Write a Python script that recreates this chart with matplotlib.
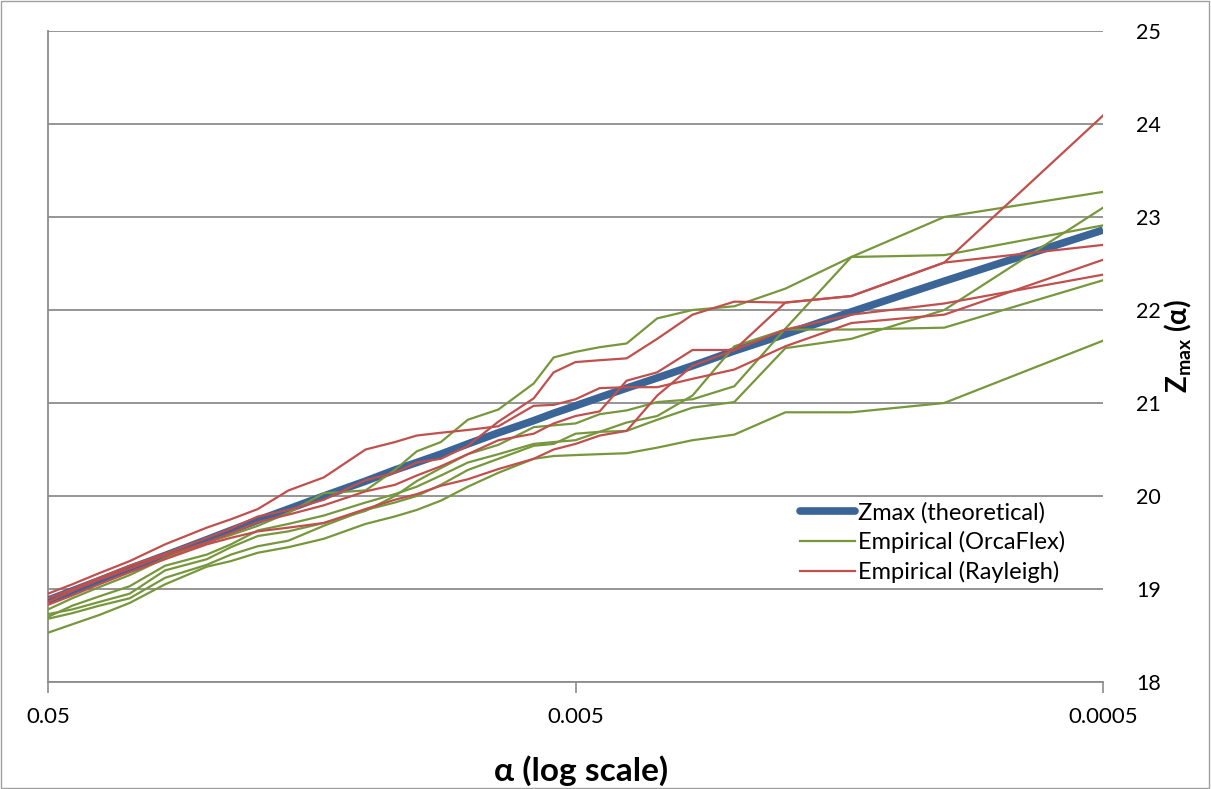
import matplotlib
matplotlib.use("Agg")
import matplotlib.pyplot as plt
from matplotlib.patches import Rectangle
from matplotlib.lines import Line2D

plt.rcParams['font.family'] = ['Lato', 'DejaVu Sans']
plt.rcParams['mathtext.fontset'] = 'custom'
plt.rcParams['mathtext.rm'] = 'Lato'
plt.rcParams['mathtext.bf'] = 'Lato:bold'
plt.rcParams['mathtext.it'] = 'Lato:italic'
plt.rcParams['mathtext.fallback'] = 'stixsans'

# exceedance rank k, alpha = k / 2000
k_rank = [1, 2, 3, 4, 5, 6, 7, 8, 9, 10, 11, 12, 14, 16, 18, 20, 22, 25, 30, 35,
          40, 45, 50, 60, 70, 80, 90, 100]
n_total = 2000
alpha = [k / n_total for k in k_rank]

theoretical = [22.86, 22.31, 21.98, 21.74, 21.56, 21.40, 21.27, 21.16, 21.06, 20.97,
               20.89, 20.81, 20.68, 20.56, 20.45, 20.36, 20.28, 20.16, 20.00, 19.86,
               19.74, 19.63, 19.53, 19.36, 19.22, 19.09, 18.98, 18.88]

orcaflex_1 = [23.27, 23.00, 22.57, 22.23, 22.04, 22.00, 21.91, 21.64, 21.60, 21.55,
              21.49, 21.21, 20.93, 20.82, 20.58, 20.48, 20.28, 20.06, 20.03, 19.82,
              19.68, 19.58, 19.50, 19.33, 19.15, 19.02, 18.90, 18.78]
orcaflex_2 = [23.10, 22.00, 21.69, 21.59, 21.01, 20.95, 20.82, 20.70, 20.69, 20.60,
              20.58, 20.56, 20.45, 20.36, 20.22, 20.10, 20.02, 19.93, 19.79, 19.70,
              19.63, 19.48, 19.37, 19.25, 19.03, 18.92, 18.82, 18.70]
orcaflex_3 = [22.91, 22.59, 22.57, 21.80, 21.18, 21.04, 21.01, 20.92, 20.88, 20.78,
              20.76, 20.74, 20.55, 20.45, 20.30, 20.16, 20.00, 19.84, 19.71, 19.62,
              19.57, 19.45, 19.32, 19.20, 18.95, 18.86, 18.78, 18.73]
orcaflex_4 = [22.32, 21.81, 21.79, 21.79, 21.61, 21.08, 20.86, 20.79, 20.69, 20.67,
              20.56, 20.54, 20.40, 20.28, 20.12, 20.00, 19.93, 19.85, 19.68, 19.52,
              19.46, 19.37, 19.26, 19.12, 18.90, 18.82, 18.74, 18.68]
orcaflex_5 = [21.67, 21.00, 20.90, 20.90, 20.66, 20.60, 20.52, 20.46, 20.45, 20.44,
              20.43, 20.40, 20.25, 20.10, 19.95, 19.85, 19.78, 19.70, 19.54, 19.45,
              19.39, 19.30, 19.24, 19.05, 18.85, 18.72, 18.62, 18.53]

rayleigh_1 = [24.09, 22.51, 22.15, 22.08, 22.09, 21.95, 21.69, 21.48, 21.46, 21.44,
              21.33, 21.05, 20.80, 20.54, 20.40, 20.36, 20.25, 20.17, 19.96, 19.85,
              19.78, 19.65, 19.55, 19.38, 19.25, 19.12, 19.00, 18.90]
rayleigh_2 = [22.70, 22.51, 22.15, 22.08, 21.57, 21.57, 21.33, 21.24, 20.91, 20.86,
              20.78, 20.67, 20.60, 20.45, 20.32, 20.22, 20.12, 20.05, 19.90, 19.80,
              19.72, 19.60, 19.50, 19.36, 19.22, 19.10, 18.98, 18.86]
rayleigh_3 = [22.54, 21.95, 21.86, 21.61, 21.36, 21.26, 21.17, 21.17, 21.16, 21.04,
              20.98, 20.97, 20.75, 20.71, 20.68, 20.65, 20.58, 20.50, 20.20, 20.06,
              19.86, 19.75, 19.66, 19.48, 19.30, 19.17, 19.05, 18.95]
rayleigh_4 = [22.38, 22.07, 21.95, 21.79, 21.57, 21.40, 21.08, 20.70, 20.65, 20.56,
              20.50, 20.40, 20.29, 20.18, 20.11, 20.02, 19.96, 19.86, 19.71, 19.66,
              19.62, 19.55, 19.48, 19.32, 19.18, 19.05, 18.93, 18.83]

orcaflex_series = [orcaflex_1, orcaflex_2, orcaflex_3, orcaflex_4, orcaflex_5]
rayleigh_series = [rayleigh_1, rayleigh_2, rayleigh_3, rayleigh_4]

x_ticks = [0.05, 0.005, 0.0005]
x_tick_labels = ['0.05', '0.005', '0.0005']
y_ticks = [18, 19, 20, 21, 22, 23, 24, 25]
legend_labels = ['Zmax (theoretical)', 'Empirical (OrcaFlex)', 'Empirical (Rayleigh)']

BLUE = '#3A6596'
GREEN = '#77973D'
RED = '#C0504D'
GRID = '#8C8C8C'

fig = plt.figure(figsize=(12.11, 7.89), dpi=100)
ax = fig.add_axes([48 / 1211, 1 - 682 / 789, (1103 - 48) / 1211, (682 - 31) / 789])

ax.plot(alpha, theoretical, color=BLUE, lw=5.5, solid_capstyle='butt', zorder=3)
for s in orcaflex_series:
    ax.plot(alpha, s, color=GREEN, lw=1.6, zorder=4)
for s in rayleigh_series:
    ax.plot(alpha, s, color=RED, lw=1.6, zorder=5)

ax.set_xscale('log')
ax.set_xlim(0.05, 0.0005)
ax.set_ylim(18, 25)
ax.set_xticks(x_ticks)
ax.set_xticklabels(x_tick_labels)
ax.xaxis.set_minor_locator(matplotlib.ticker.NullLocator())
ax.set_yticks(y_ticks)
ax.yaxis.tick_right()
ax.tick_params(axis='y', which='both', length=0, pad=24, labelsize=15.5, colors='black')
ax.tick_params(axis='x', which='major', length=8, width=1.2, color=GRID, pad=10,
               labelsize=16, direction='out')
ax.grid(axis='y', color=GRID, lw=1.3)
ax.set_axisbelow(True)
for side in ['top', 'right']:
    ax.spines[side].set_visible(False)
for side in ['left', 'bottom']:
    ax.spines[side].set_color(GRID)
    ax.spines[side].set_linewidth(1.3)

fig.text(581 / 1211, 1 - 771 / 789, 'α (log scale)', ha='center', va='center',
         fontsize=24, fontweight='bold')
fig.text(1178 / 1211, 1 - 346 / 789, r'$\mathbf{Z_{max}\ (\alpha)}$', ha='center', va='center',
         fontsize=20, rotation=90)

handles = [Line2D([], [], color=BLUE, lw=5.5, solid_capstyle='round'),
           Line2D([], [], color=GREEN, lw=1.6),
           Line2D([], [], color=RED, lw=1.6)]
leg = ax.legend(handles, legend_labels, loc='upper left',
                bbox_to_anchor=((800 - 48) / 1055, (682 - 502) / 651),
                frameon=False, fontsize=17, handlelength=2.35, handletextpad=0.12,
                labelspacing=0.33, borderpad=0.0, borderaxespad=0.0)

fig.add_artist(Rectangle((0.0005, 0.001), 0.998, 0.998, transform=fig.transFigure,
                         fill=False, edgecolor='#A0A0A0', lw=1.0))

fig.savefig('out.png', dpi=100)
